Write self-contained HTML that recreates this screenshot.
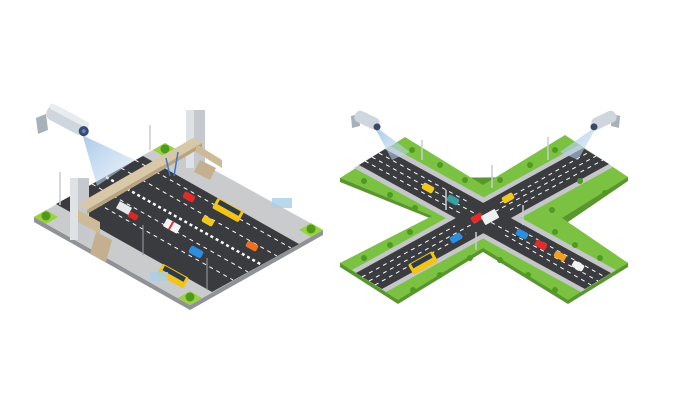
<!DOCTYPE html>
<html><head><meta charset="utf-8"><style>html,body{margin:0;padding:0;background:#fff}svg{display:block}</style></head>
<body>
<svg width="676" height="406" viewBox="0 0 676 406" xmlns="http://www.w3.org/2000/svg">
<defs>
<linearGradient id="cone" x1="0" y1="0" x2="1" y2="1"><stop offset="0" stop-color="#9fc3e6" stop-opacity="0.9"/><stop offset="1" stop-color="#c9def2" stop-opacity="0.4"/></linearGradient>
</defs>
<!-- LEFT BLOCK -->
<polygon points="34,217 190,305 323,230 323,235 190,310 34,222" fill="#8f9296"/>
<polygon points="34,217 165,143 323,230 190,305" fill="#c9cbcd"/>
<polygon points="56,204 143,156 299,244 212,292" fill="#3a3b3e"/>
<g stroke="#fff" stroke-width="1" stroke-dasharray="4 4" fill="none">
<line x1="77" y1="192" x2="233" y2="280"/>
<line x1="92" y1="184" x2="248" y2="272"/>
<line x1="121" y1="168" x2="277" y2="256"/>
<line x1="135" y1="160" x2="291" y2="248"/>
</g>
<line x1="106" y1="177" x2="262" y2="265" stroke="#fff" stroke-width="2.5" stroke-dasharray="3 3"/>
<polygon points="34,217 46,210 58,217 46,224" fill="#9bd23c"/><circle cx="46" cy="216" r="4.5" fill="#4d9a1f"/>
<polygon points="165,143 177,150 165,157 153,150" fill="#9bd23c"/><circle cx="165" cy="149" r="4.5" fill="#4d9a1f"/>
<polygon points="323,230 311,237 299,230 311,223" fill="#9bd23c"/><circle cx="311" cy="229" r="4.5" fill="#4d9a1f"/>
<polygon points="190,305 178,298 190,291 202,298" fill="#9bd23c"/><circle cx="190" cy="297" r="4.5" fill="#4d9a1f"/>
<rect x="70" y="178" width="19" height="62" fill="#c5c9cd"/><rect x="70" y="178" width="8" height="62" fill="#dfe2e5"/>
<rect x="186" y="110" width="19" height="58" fill="#c5c9cd"/><rect x="186" y="110" width="8" height="58" fill="#dfe2e5"/>
<polygon points="78,204 193,138 202,143 87,210" fill="#d9c8a8"/>
<polygon points="87,210 202,143 202,147 87,214" fill="#b8a482"/>
<polygon points="78,210 100,222 100,234 78,222" fill="#cdbb98"/>
<polygon points="96,232 112,240 106,262 90,254" fill="#c4b08e"/>
<polygon points="196,144 222,160 222,168 196,152" fill="#cdbb98"/>
<polygon points="200,160 216,168 210,180 194,172" fill="#c4b08e"/>
<line x1="166" y1="158" x2="170" y2="176" stroke="#3d78c6" stroke-width="1.5"/><line x1="178" y1="152" x2="174" y2="176" stroke="#3d78c6" stroke-width="1.5"/>
<g transform="translate(228,210) rotate(29)"><rect x="-15" y="-6" width="30" height="12" rx="2" fill="#f2c418"/><rect x="-12" y="-5" width="24" height="5" fill="#2d3a4a"/></g>
<g transform="translate(173,276) rotate(29)"><rect x="-15" y="-6" width="30" height="12" rx="2" fill="#f2c418"/><rect x="-12" y="-5" width="24" height="5" fill="#2d3a4a"/></g>
<g transform="translate(189,197) rotate(29)"><rect x="-6" y="-3.5" width="12" height="7" rx="2" fill="#e52a2a"/></g>
<g transform="translate(208,221) rotate(29)"><rect x="-6" y="-3.5" width="12" height="7" rx="2" fill="#f0c820"/></g>
<g transform="translate(172,226) rotate(29)"><rect x="-8" y="-4.5" width="16" height="9" rx="1" fill="#f4f4f4"/><rect x="-2" y="-4.5" width="2" height="9" fill="#e03030"/></g>
<g transform="translate(252,246) rotate(29)"><rect x="-6" y="-3.5" width="12" height="7" rx="2" fill="#f07020"/></g>
<g transform="translate(196,252) rotate(29)"><rect x="-7" y="-4" width="14" height="8" rx="2" fill="#2c8ee0"/></g>
<g transform="translate(133,216) rotate(29)"><rect x="-5" y="-3" width="10" height="6" rx="2" fill="#d82828"/></g>
<g transform="translate(124,208) rotate(29)"><rect x="-7" y="-4" width="14" height="8" fill="#e6e8ea"/></g>
<rect x="272" y="198" width="20" height="10" fill="#a9cde8" opacity="0.8"/>
<rect x="150" y="272" width="18" height="9" fill="#a9cde8" opacity="0.8"/>
<line x1="143" y1="225" x2="143" y2="255" stroke="#9aa0a6"/><line x1="207" y1="258" x2="207" y2="290" stroke="#9aa0a6"/>
<line x1="150" y1="125" x2="150" y2="150" stroke="#c8ccd0" stroke-width="1.5"/>
<line x1="60" y1="172" x2="60" y2="205" stroke="#c8ccd0" stroke-width="1.5"/>
<polygon points="82,133 86,137 135,160 97,186" fill="url(#cone)"/>
<polygon points="36,118 46,114 48,130 38,134" fill="#a8b0b8"/>
<g transform="translate(67,120) rotate(28)"><rect x="-22" y="-8" width="44" height="16" rx="7" fill="#cfd6dd"/><rect x="-22" y="-8" width="44" height="6" rx="3" fill="#e8ecef"/><circle cx="20" cy="2" r="5" fill="#3c4a6a"/><circle cx="20" cy="2" r="2" fill="#6a7fd0"/></g>
<!-- RIGHT X -->
<polygon points="340,178 340,182 432,219 340,263 340,267 398,304 483,252 568,304 628,267 628,263 565,224 628,181 628,177" fill="#5a9630"/>
<polygon points="340,178 405,137 483,185 565,135 628,177 562,218 628,263 568,300 483,248 398,300 340,263 432,216" fill="#7cc242"/>
<polygon points="354,168 390,146 616,270 581,292" fill="#c4c6c8"/>
<polygon points="352,270 386,292 613,167 579,145" fill="#c4c6c8"/>
<polygon points="359,165 385,149 611,273 585,289" fill="#3b3c3f"/>
<polygon points="356,273 382,289 609,164 583,148" fill="#3b3c3f"/>
<g stroke="#fff" stroke-width="1" stroke-dasharray="4 4" fill="none">
<line x1="372" y1="157" x2="598" y2="281"/>
<line x1="369" y1="281" x2="596" y2="156"/>
<line x1="365" y1="161" x2="460" y2="213"/><line x1="379" y1="153" x2="470" y2="203"/>
<line x1="505" y1="235" x2="591" y2="285"/><line x1="515" y1="227" x2="605" y2="277"/>
<line x1="362" y1="277" x2="455" y2="226"/><line x1="375" y1="285" x2="466" y2="234"/>
<line x1="500" y1="203" x2="589" y2="152"/><line x1="510" y1="210" x2="603" y2="160"/>
</g>
<g fill="#4f9a22">
<circle cx="412" cy="150" r="3"/><circle cx="440" cy="165" r="3"/><circle cx="465" cy="180" r="3"/><circle cx="500" cy="180" r="3"/><circle cx="530" cy="165" r="3"/><circle cx="555" cy="150" r="3"/>
<circle cx="364" cy="181" r="3"/><circle cx="390" cy="195" r="3"/><circle cx="415" cy="208" r="3"/><circle cx="580" cy="181" r="3"/><circle cx="605" cy="193" r="3"/><circle cx="552" cy="210" r="3"/>
<circle cx="364" cy="258" r="3"/><circle cx="390" cy="245" r="3"/><circle cx="410" cy="232" r="3"/><circle cx="575" cy="245" r="3"/><circle cx="600" cy="258" r="3"/><circle cx="555" cy="232" r="3"/>
<circle cx="413" cy="290" r="3"/><circle cx="440" cy="275" r="3"/><circle cx="470" cy="258" r="3"/><circle cx="500" cy="260" r="3"/><circle cx="528" cy="275" r="3"/><circle cx="555" cy="290" r="3"/>
</g>
<g transform="translate(423,263) rotate(-29)"><rect x="-14" y="-6" width="28" height="12" rx="2" fill="#f2c418"/><rect x="-11" y="-5" width="22" height="5" fill="#2d3a4a"/></g>
<g transform="translate(428,188) rotate(29)"><rect x="-6" y="-3.5" width="12" height="7" rx="2" fill="#f0c820"/></g>
<g transform="translate(453,200) rotate(29)"><rect x="-6" y="-3.5" width="12" height="7" rx="2" fill="#3aa0a0"/></g>
<g transform="translate(508,198) rotate(-29)"><rect x="-6" y="-3.5" width="12" height="7" rx="2" fill="#f0c820"/></g>
<g transform="translate(477,218) rotate(-29)"><rect x="-6" y="-3.5" width="12" height="7" rx="2" fill="#e52a2a"/></g>
<g transform="translate(490,217) rotate(-29)"><rect x="-8" y="-5" width="16" height="10" rx="1" fill="#eef0f2"/></g>
<g transform="translate(456,238) rotate(-29)"><rect x="-6" y="-3.5" width="12" height="7" rx="2" fill="#2c8ee0"/></g>
<g transform="translate(522,234) rotate(29)"><rect x="-6" y="-3.5" width="12" height="7" rx="2" fill="#2c8ee0"/></g>
<g transform="translate(541,245) rotate(29)"><rect x="-6" y="-3.5" width="12" height="7" rx="2" fill="#e52a2a"/></g>
<g transform="translate(560,256) rotate(29)"><rect x="-6" y="-3.5" width="12" height="7" rx="2" fill="#f0a020"/></g>
<g transform="translate(578,266) rotate(29)"><rect x="-6" y="-3.5" width="12" height="7" rx="2" fill="#f2f2f2"/></g>
<g stroke="#c8ccd0" stroke-width="1.5"><line x1="492" y1="165" x2="492" y2="188"/><line x1="446" y1="190" x2="446" y2="210"/><line x1="523" y1="205" x2="523" y2="225"/><line x1="476" y1="232" x2="476" y2="250"/><line x1="422" y1="140" x2="422" y2="160"/><line x1="548" y1="137" x2="548" y2="160"/></g>
<polygon points="375,128 380,130 410,152 392,160" fill="url(#cone)"/>
<polygon points="596,128 591,130 560,152 578,160" fill="url(#cone)"/>
<polygon points="351,116 359,114 360,126 352,128" fill="#a8b0b8"/>
<g transform="translate(367,120) rotate(25)"><rect x="-13" y="-6" width="26" height="12" rx="5" fill="#cfd6dd"/><circle cx="12" cy="2" r="3.5" fill="#3c4a6a"/></g>
<polygon points="620,116 612,114 611,126 619,128" fill="#a8b0b8"/>
<g transform="translate(604,120) rotate(-25)"><rect x="-13" y="-6" width="26" height="12" rx="5" fill="#cfd6dd"/><circle cx="-12" cy="2" r="3.5" fill="#3c4a6a"/></g>
</svg>
</body></html>
